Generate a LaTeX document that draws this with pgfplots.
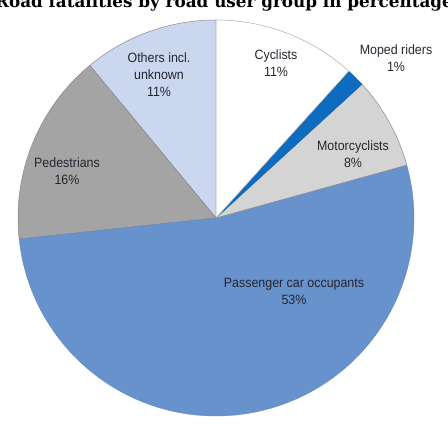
\documentclass[border=0pt]{standalone}
\usepackage{pgfplots}
\pgfplotsset{compat=1.18}
\usepackage{fontspec}
\setmainfont{Liberation Sans}[FakeStretch=0.92]
\newfontfamily\titlefont{DejaVu Serif}
\definecolor{cOth}{HTML}{CAD7EE}
\definecolor{cPed}{HTML}{A4A4A4}
\definecolor{cCar}{HTML}{6792CC}
\definecolor{cMot}{HTML}{D4D4D4}
\definecolor{cMop}{HTML}{0E6BBE}
\definecolor{cCyc}{HTML}{FFFFFF}
\definecolor{edge}{HTML}{8A8A8A}
\definecolor{txt}{HTML}{262630}
% shares in percent, counter-clockwise from the top
\def\vOth{11.0}
\def\vPed{15.7}
\def\vCar{52.6}
\def\vMot{7.5}
\def\vMop{1.5}
\def\vCyc{11.7}
\begin{document}
\begin{tikzpicture}
\useasboundingbox (0,0) rectangle (448pt,435pt);
\pgfmathsetmacro{\aA}{90}
\pgfmathsetmacro{\aB}{\aA+3.6*\vOth}
\pgfmathsetmacro{\aC}{\aB+3.6*\vPed}
\pgfmathsetmacro{\aD}{\aC+3.6*\vCar}
\pgfmathsetmacro{\aE}{\aD+3.6*\vMot}
\pgfmathsetmacro{\aF}{\aE+3.6*\vMop}
\pgfmathsetmacro{\aG}{\aF+3.6*\vCyc}
\begin{axis}[at={(0,0)},anchor=south west,scale only axis,
  width=448pt,height=435pt,xmin=0,xmax=448,ymin=0,ymax=435,
  hide axis,clip=false]
\filldraw[fill=cOth,draw=edge,line width=0.5pt] (axis cs:216,217) -- ++(\aA:198pt) arc[start angle=\aA,end angle=\aB,radius=198pt] -- cycle;
\filldraw[fill=cPed,draw=edge,line width=0.5pt] (axis cs:216,217) -- ++(\aB:198pt) arc[start angle=\aB,end angle=\aC,radius=198pt] -- cycle;
\filldraw[fill=cCar,draw=cCar!90!black,line width=0.3pt] (axis cs:216,217) -- ++(\aC:198pt) arc[start angle=\aC,end angle=\aD,radius=198pt] -- cycle;
\filldraw[fill=cMot,draw=edge,line width=0.5pt] (axis cs:216,217) -- ++(\aD:198pt) arc[start angle=\aD,end angle=\aE,radius=198pt] -- cycle;
\filldraw[fill=cMop,draw=cMop,line width=0.3pt] (axis cs:216,217) -- ++(\aE:198pt) arc[start angle=\aE,end angle=\aF,radius=198pt] -- cycle;
\filldraw[fill=cCyc,draw=edge!70,line width=0.5pt] (axis cs:216,217) -- ++(\aF:198pt) arc[start angle=\aF,end angle=\aG,radius=198pt] -- cycle;
\begin{scope}[every node/.style={align=center,text=txt,font=\fontsize{13.5}{17}\selectfont,inner sep=0pt}]
\node at (axis cs:276,371.5) {Cyclists\\11\%};
\node at (axis cs:396,377) {Moped riders\\1\%};
\node at (axis cs:353,280.5) {Motorcyclists\\8\%};
\node at (axis cs:294,143.5) {Passenger car occupants\\53\%};
\node at (axis cs:67,264) {Pedestrians\\16\%};
\node at (axis cs:159,360.5) {Others incl.\\unknown\\11\%};
\end{scope}
\node[anchor=base,inner sep=0pt,font=\titlefont\bfseries\fontsize{16.8}{20}\selectfont] at (axis cs:224,427) {Road fatalities by road user group in percentage};
\end{axis}
\end{tikzpicture}
\end{document}
